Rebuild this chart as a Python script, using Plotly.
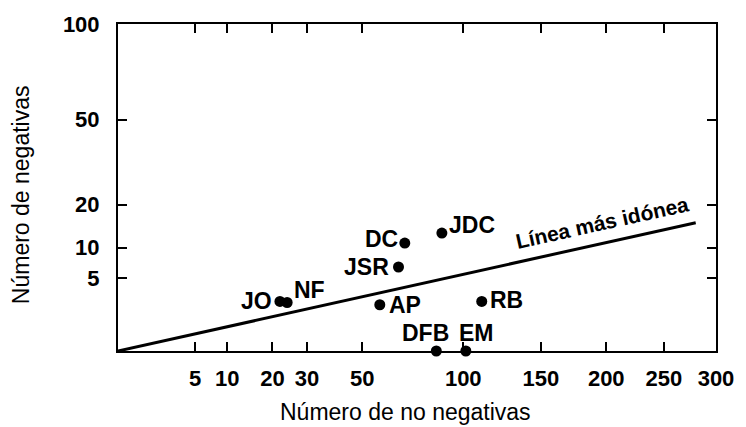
import numpy as np
import plotly.graph_objects as go

# ---- data ----
names = ["JO", "NF", "DC", "JDC", "JSR", "AP", "RB", "DFB", "EM"]
no_negativas = [22, 24, 69, 88, 66, 57.5, 111, 85, 101.5]
negativas = [2.3, 2.2, 10.9, 13, 6.6, 2.0, 2.3, 0, 0]

fit_x = [0, 280]
fit_y = [0, 15.4]

x_ticks = [5, 10, 20, 30, 50, 100, 150, 200, 250, 300]
y_ticks = [5, 10, 20, 50, 100]
x_max = 300
y_max = 100

# ---- square-root scale (the chart uses sqrt-spaced axes) ----
def sq(v):
    return np.sqrt(np.asarray(v, dtype=float))

# label placement (style only)
label_style = {
    "JO":  dict(xanchor="right", xshift=-6, yshift=0),
    "NF":  dict(xanchor="left", xshift=5, yshift=13),
    "DC":  dict(xanchor="right", xshift=-5, yshift=4),
    "JDC": dict(xanchor="left", xshift=5, yshift=8),
    "JSR": dict(xanchor="right", xshift=-7, yshift=0),
    "AP":  dict(xanchor="left", xshift=7, yshift=0),
    "RB":  dict(xanchor="left", xshift=6, yshift=1),
    "DFB": dict(xanchor="center", xshift=-11, yshift=18),
    "EM":  dict(xanchor="left", xshift=-9, yshift=18),
}

FONT = "Liberation Sans, Arial, sans-serif"

fig = go.Figure()
fig.add_trace(go.Scatter(
    x=sq(fit_x), y=sq(fit_y), mode="lines",
    line=dict(color="black", width=3), hoverinfo="skip", showlegend=False))
fig.add_trace(go.Scatter(
    x=sq(no_negativas), y=sq(negativas), mode="markers",
    marker=dict(color="black", size=11), text=names,
    cliponaxis=False, showlegend=False))

for n, xv, yv in zip(names, no_negativas, negativas):
    st = label_style[n]
    fig.add_annotation(x=float(sq(xv)), y=float(sq(yv)), text=n, showarrow=False,
                       yanchor="middle", font=dict(family=FONT, size=23, color="black", weight="bold"),
                       **st)

# label for fitted line
fig.add_annotation(x=float(sq(197)), y=float(sq(15.4)), text="Línea más idónea",
                   showarrow=False, textangle=-12.5,
                   font=dict(family=FONT, size=21, color="black", weight="bold"))

# axis titles
fig.add_annotation(xref="paper", yref="paper", x=0.48, y=-0.188, text="Número de no negativas",
                   showarrow=False, xanchor="center", yanchor="middle",
                   font=dict(family=FONT, size=23, color="black"))
fig.add_annotation(xref="paper", yref="paper", x=-0.162, y=0.477, text="Número de negativas",
                   showarrow=False, textangle=-90, xanchor="center", yanchor="middle",
                   font=dict(family=FONT, size=23, color="black"))

axis_common = dict(showgrid=False, zeroline=False, showline=True, linecolor="black",
                   linewidth=2, ticks="inside", ticklen=9, tickwidth=2, tickcolor="black",
                   mirror="ticks",
                   tickfont=dict(family=FONT, size=22, color="black", weight="bold"))

fig.update_xaxes(range=[0, float(sq(x_max))], tickvals=sq(x_ticks),
                 ticktext=[str(t) for t in x_ticks], ticklabelstandoff=7, **axis_common)
fig.update_yaxes(range=[0, float(sq(y_max))], tickvals=sq(y_ticks),
                 ticktext=[str(t) for t in y_ticks], ticklabelstandoff=12, **axis_common)

fig.update_layout(width=746, height=427, margin=dict(l=118, r=24, t=22, b=76),
                  plot_bgcolor="white", paper_bgcolor="white", showlegend=False)

fig.write_html("out.html", config={"displayModeBar": False},
               post_script="document.body.style.margin='0';document.body.style.overflow='hidden';")
